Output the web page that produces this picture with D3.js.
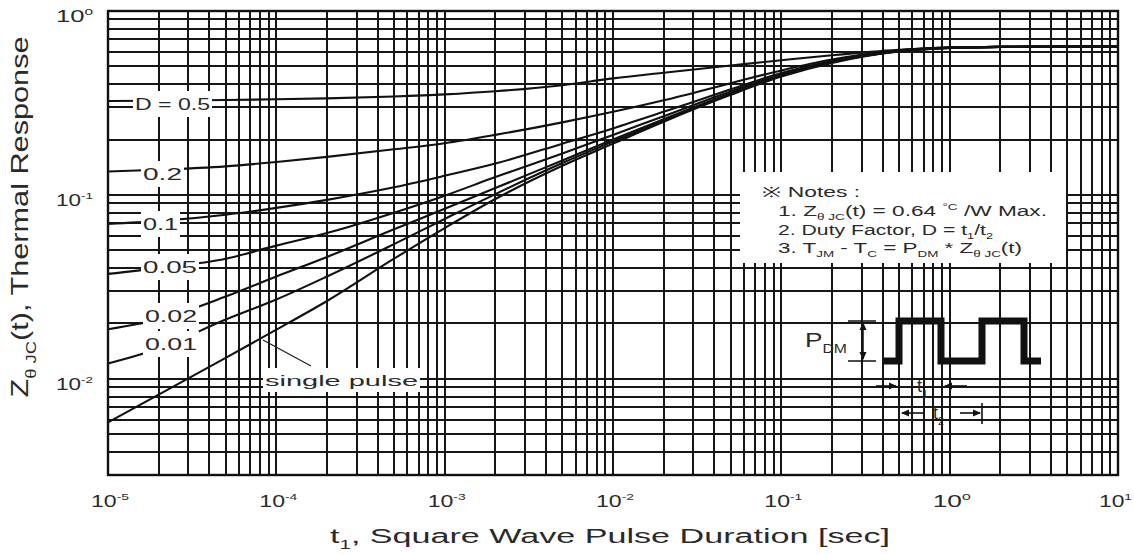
<!DOCTYPE html>
<html>
<head>
<meta charset="utf-8">
<script src="https://cdn.jsdelivr.net/npm/d3@7"></script>
<style>
  html, body { margin: 0; padding: 0; background: #fff; }
  svg { display: block; }
  text { font-family: "Liberation Sans", Arial, sans-serif; fill: #2a2a2a; }
</style>
</head>
<body>
<svg id="chart" width="1134" height="555"></svg>
<script>
// Pulse durations t1 [sec] at which each response curve is sampled
const pulseDuration = [1e-5, 2e-5, 5e-5, 1e-4, 2e-4, 5e-4, 1e-3, 2e-3, 5e-3, 1e-2, 2e-2, 5e-2, 1e-1, 2e-1, 5e-1, 1, 2, 5, 10];

// Normalised transient thermal response Z(t) per duty factor
const dutyLabels = ["D = 0.5", "0.2", "0.1", "0.05", "0.02", "0.01", "single pulse"];
const zD050 = [0.324, 0.325, 0.328, 0.331, 0.335, 0.343, 0.352, 0.366, 0.395, 0.430, 0.462, 0.505, 0.540, 0.575, 0.615, 0.633, 0.638, 0.640, 0.640];
const zD020 = [0.134, 0.137, 0.143, 0.151, 0.161, 0.177, 0.191, 0.212, 0.248, 0.283, 0.327, 0.405, 0.475, 0.545, 0.612, 0.632, 0.638, 0.640, 0.640];
const zD010 = [0.0696, 0.072, 0.078, 0.085, 0.094, 0.110, 0.127, 0.148, 0.190, 0.230, 0.283, 0.375, 0.460, 0.537, 0.610, 0.632, 0.638, 0.640, 0.640];
const zD005 = [0.0372, 0.040, 0.045, 0.053, 0.062, 0.080, 0.099, 0.125, 0.168, 0.212, 0.268, 0.365, 0.452, 0.532, 0.607, 0.631, 0.638, 0.640, 0.640];
const zD002 = [0.0186, 0.021, 0.028, 0.036, 0.046, 0.065, 0.084, 0.109, 0.154, 0.200, 0.258, 0.357, 0.447, 0.528, 0.605, 0.630, 0.638, 0.640, 0.640];
const zD001 = [0.0121, 0.0146, 0.021, 0.027, 0.036, 0.054, 0.074, 0.101, 0.149, 0.195, 0.254, 0.354, 0.444, 0.526, 0.604, 0.630, 0.638, 0.640, 0.640];
const zSingle = [0.0058, 0.0082, 0.013, 0.0185, 0.0265, 0.045, 0.066, 0.095, 0.144, 0.190, 0.250, 0.350, 0.440, 0.522, 0.602, 0.629, 0.638, 0.640, 0.640];
const responseSeries = [zD050, zD020, zD010, zD005, zD002, zD001, zSingle];

// Axis decades (powers of ten that get a label)
const xTickExponents = [-5, -4, -3, -2, -1, 0, 1];
const yTickExponents = [0, -1, -2];

const svg = d3.select("#chart");
const W = 1134, H = 555;
const plot = { left: 108, right: 1118, top: 11, bottom: 475 };

const x = d3.scaleLog().domain([1e-5, 10]).range([plot.left, plot.right]);
const y = d3.scaleLog().domain([0.003, 1]).range([plot.bottom, plot.top]);

svg.append("rect").attr("width", W).attr("height", H).attr("fill", "#fff");

// Helper: text made of normal / subscript / superscript runs
function rich(sel, parts, size) {
  let off = 0;
  parts.forEach(p => {
    const s = p[0], k = p[1];
    const target = k === "sup" ? -0.42 * size : k === "sub" ? 0.32 * size : 0;
    const fs = k === "sup" ? size * 0.6 : k === "sub" ? size * 0.6 : size;
    sel.append("tspan").attr("dy", (target - off).toFixed(2)).attr("font-size", fs).text(s);
    off = target;
  });
  return sel;
}

// ---- grid ----
const grid = svg.append("g").attr("stroke", "#161616").attr("stroke-width", 1.8).attr("shape-rendering", "crispEdges");
grid.selectAll("line.v").data(x.ticks()).join("line").attr("class", "v")
  .attr("x1", d => Math.round(x(d))).attr("x2", d => Math.round(x(d)))
  .attr("y1", plot.top).attr("y2", plot.bottom);
grid.selectAll("line.h").data(y.ticks()).join("line").attr("class", "h")
  .attr("y1", d => Math.round(y(d))).attr("y2", d => Math.round(y(d)))
  .attr("x1", plot.left).attr("x2", plot.right);

// ---- curves ----
const line = d3.line().x(d => x(d[0])).y(d => y(d[1])).curve(d3.curveMonotoneX);
svg.append("g").selectAll("path").data(responseSeries).join("path")
  .attr("d", s => line(pulseDuration.map((t, i) => [t, s[i]])))
  .attr("fill", "none").attr("stroke", "#111").attr("stroke-width", 2.1);

// ---- plot frame ----
svg.append("rect").attr("x", plot.left).attr("y", plot.top)
  .attr("width", plot.right - plot.left).attr("height", plot.bottom - plot.top)
  .attr("fill", "none").attr("stroke", "#111").attr("stroke-width", 2.4);

// ---- curve labels on white patches ----
const labelPlaces = [
  { x: 135, y: 110, len: 75, fs: 17 },
  { x: 143, y: 180, len: 39, fs: 17 },
  { x: 143, y: 230, len: 35, fs: 17 },
  { x: 143, y: 273, len: 54, fs: 17 },
  { x: 145, y: 322, len: 52, fs: 17 },
  { x: 145, y: 350, len: 52, fs: 17 },
  { x: 265, y: 386, len: 153, fs: 15 }
];
const lab = svg.append("g");
dutyLabels.forEach((txt, i) => {
  const p = labelPlaces[i];
  const g = lab.append("g");
  const t = g.append("text").attr("x", p.x).attr("y", p.y).attr("font-size", p.fs)
    .attr("textLength", p.len).attr("lengthAdjust", "spacingAndGlyphs").text(txt);
  const b = t.node().getBBox();
  g.insert("rect", "text").attr("x", b.x - 2).attr("y", b.y - 4)
    .attr("width", b.width + 4).attr("height", b.height + 7).attr("fill", "#fff");
});
// leader from the single-pulse label to its curve
svg.append("line").attr("x1", 311).attr("y1", 366).attr("x2", 263).attr("y2", 340)
  .attr("stroke", "#222").attr("stroke-width", 1.3);

// ---- notes ----
svg.append("rect").attr("x", 740).attr("y", 172).attr("width", 326).attr("height", 91).attr("fill", "#fff");
const notes = svg.append("g").attr("font-size", 14);
notes.append("text").attr("x", 762).attr("y", 197).attr("textLength", 98).attr("lengthAdjust", "spacingAndGlyphs")
  .call(s => rich(s, [["\u203B ", "n"], ["Notes :", "n"]], 14));
notes.append("text").attr("x", 778).attr("y", 216).attr("textLength", 269).attr("lengthAdjust", "spacingAndGlyphs")
  .call(s => rich(s, [["1. Z", ""], ["\u03B8 JC", "sub"], ["(t) = 0.64 ", ""], ["\u00B0C", "sup"], [" /W  Max.", ""]], 14));
notes.append("text").attr("x", 778).attr("y", 235).attr("textLength", 215).attr("lengthAdjust", "spacingAndGlyphs")
  .call(s => rich(s, [["2. Duty Factor, D = t", ""], ["1", "sub"], ["/t", ""], ["2", "sub"]], 14));
notes.append("text").attr("x", 778).attr("y", 253).attr("textLength", 244).attr("lengthAdjust", "spacingAndGlyphs")
  .call(s => rich(s, [["3. T", ""], ["JM", "sub"], [" - T", ""], ["C", "sub"], [" = P", ""], ["DM", "sub"], [" * Z", ""], ["\u03B8 JC", "sub"], ["(t)", ""]], 14));

// ---- pulse train sketch ----
const pulse = svg.append("g");
pulse.append("path")
  .attr("d", "M883,361 H899 V321 H941 V361 H982 V321 H1024 V361 H1041")
  .attr("fill", "none").attr("stroke", "#111").attr("stroke-width", 7).attr("stroke-linejoin", "miter");
// P_DM dimension
pulse.append("text").attr("x", 805).attr("y", 347).attr("textLength", 42).attr("lengthAdjust", "spacingAndGlyphs")
  .call(s => rich(s, [["P", ""], ["DM", "sub"]], 20));
pulse.append("g").attr("stroke", "#111").attr("stroke-width", 1.5)
  .call(g => {
    g.append("line").attr("x1", 848).attr("x2", 876).attr("y1", 321).attr("y2", 321);
    g.append("line").attr("x1", 848).attr("x2", 876).attr("y1", 361).attr("y2", 361);
    g.append("line").attr("x1", 863).attr("x2", 863).attr("y1", 323).attr("y2", 359);
  });
function head(g, tx, ty, dir) {
  // dir: "r","l","u","d" — tip at (tx,ty)
  const L = 8, Wd = 3.5;
  let pts;
  if (dir === "r") pts = [[tx, ty], [tx - L, ty - Wd], [tx - L, ty + Wd]];
  if (dir === "l") pts = [[tx, ty], [tx + L, ty - Wd], [tx + L, ty + Wd]];
  if (dir === "u") pts = [[tx, ty], [tx - Wd, ty + L], [tx + Wd, ty + L]];
  if (dir === "d") pts = [[tx, ty], [tx - Wd, ty - L], [tx + Wd, ty - L]];
  g.append("path").attr("d", "M" + pts.join("L") + "Z").attr("fill", "#111");
}
head(pulse, 863, 322, "u");
head(pulse, 863, 360, "d");
// t1: arrows pointing inward
const arr = pulse.append("g").attr("stroke", "#111").attr("stroke-width", 1.6);
arr.append("line").attr("x1", 876).attr("x2", 896).attr("y1", 386).attr("y2", 386);
arr.append("line").attr("x1", 945).attr("x2", 967).attr("y1", 386).attr("y2", 386);
head(pulse, 897, 386, "r");
head(pulse, 944, 386, "l");
pulse.append("text").attr("x", 917).attr("y", 392).call(s => rich(s, [["t", ""], ["1", "sub"]], 18));
// t2: arrows pointing outward to the next rising edge
arr.append("line").attr("x1", 902).attr("x2", 924).attr("y1", 413).attr("y2", 413);
arr.append("line").attr("x1", 960).attr("x2", 980).attr("y1", 413).attr("y2", 413);
arr.append("line").attr("x1", 982).attr("x2", 982).attr("y1", 403).attr("y2", 424);
head(pulse, 901, 413, "l");
head(pulse, 981, 413, "r");
pulse.append("text").attr("x", 933).attr("y", 419).call(s => rich(s, [["t", ""], ["2", "sub"]], 18));

// ---- tick labels ----
const xt = svg.append("g");
xTickExponents.forEach((e, i) => {
  const last = i === xTickExponents.length - 1;
  xt.append("text")
    .attr("x", last ? 1132 : x(Math.pow(10, e)) + 2).attr("y", 507)
    .attr("text-anchor", last ? "end" : "middle")
    .attr("textLength", last ? 33 : 38).attr("lengthAdjust", "spacingAndGlyphs")
    .call(s => rich(s, [["10", ""], [e < 0 ? "-" + (-e) : String(e), "sup"]], 16));
});
const yt = svg.append("g").attr("text-anchor", "end");
yTickExponents.forEach(e => {
  yt.append("text").attr("x", 93).attr("y", y(Math.pow(10, e)) + 11)
    .attr("textLength", 37).attr("lengthAdjust", "spacingAndGlyphs")
    .call(s => rich(s, [["10", ""], [e < 0 ? "-" + (-e) : String(e), "sup"]], 16));
});

// ---- axis titles ----
svg.append("text").attr("x", 610).attr("y", 543).attr("text-anchor", "middle")
  .attr("textLength", 560).attr("lengthAdjust", "spacingAndGlyphs")
  .call(s => rich(s, [["t", ""], ["1", "sub"], [", Square Wave Pulse Duration [sec]", ""]], 20));
svg.append("text").attr("transform", "translate(28,217) scale(1.2,1) rotate(-90)").attr("text-anchor", "middle")
  .attr("textLength", 361).attr("lengthAdjust", "spacingAndGlyphs")
  .call(s => rich(s, [["Z", ""], ["\u03B8 JC", "sub"], ["(t), Thermal Response", ""]], 20));
</script>
</body>
</html>
